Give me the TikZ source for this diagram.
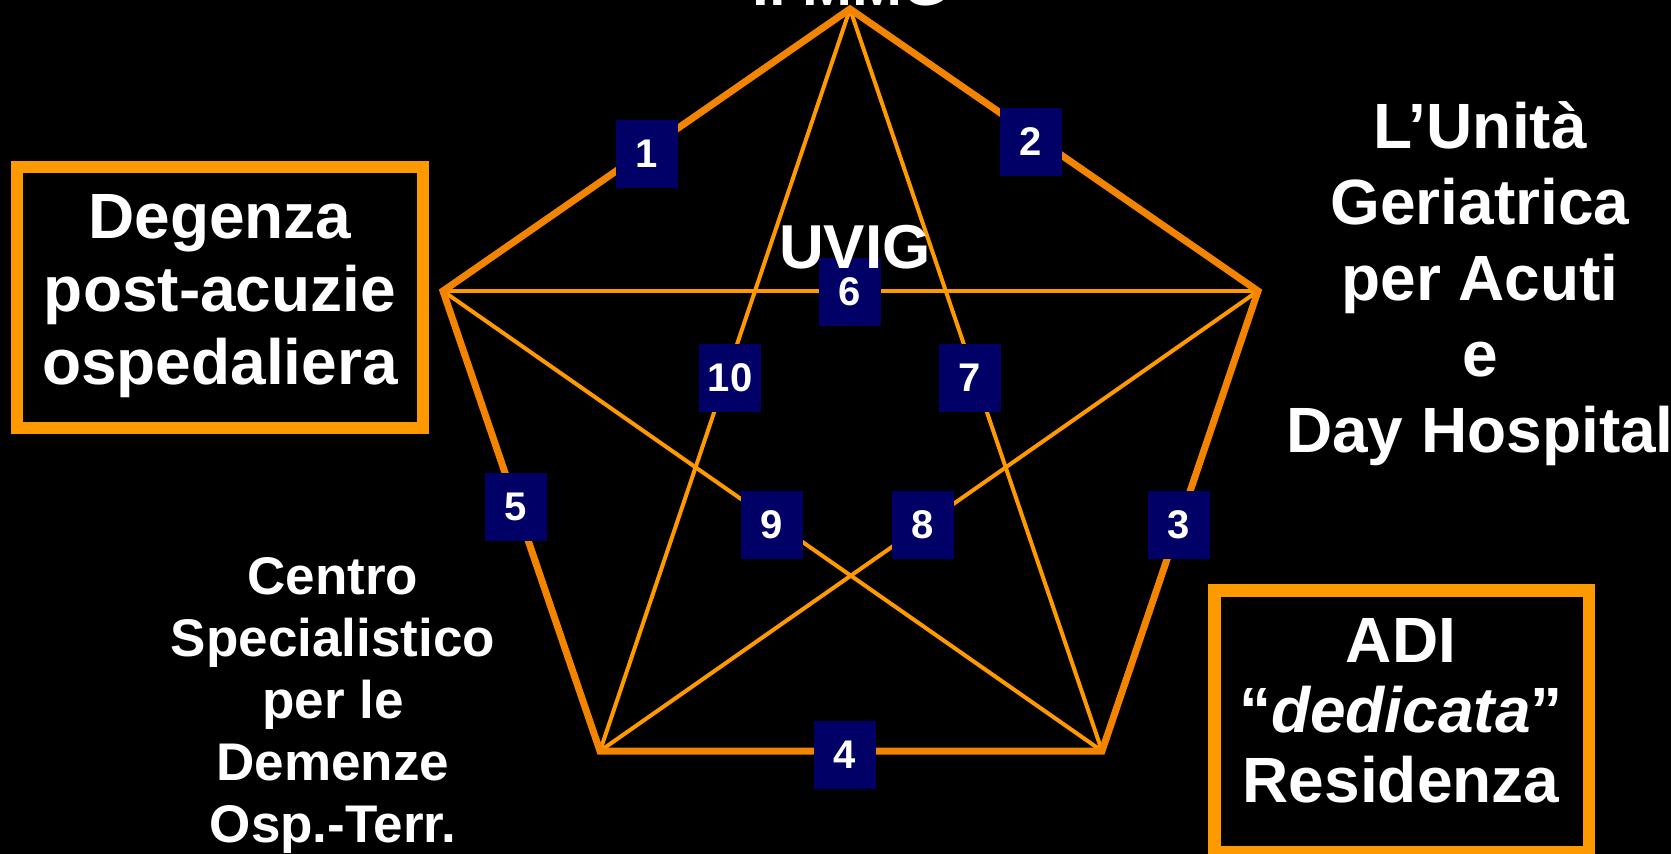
\documentclass[tikz,border=0pt]{standalone}
\usepackage{fontspec}
\setmainfont{Liberation Sans}
\definecolor{edgeor}{RGB}{242,132,0}
\definecolor{staror}{RGB}{255,153,0}
\definecolor{navy}{RGB}{0,0,102}
\begin{document}
\begin{tikzpicture}[x=1pt,y=-1pt,
  outeredge/.style={draw=edgeor,line width=7pt,line join=miter},
  starline/.style={draw=staror,line width=4pt},
  framebox/.style={draw=staror,line width=12.5pt},
  numbox/.style={fill=navy,text=white,inner sep=0pt,minimum width=62pt,minimum height=68pt,
    font=\bfseries\fontsize{40}{40}\selectfont},
  bigtxt/.style={text=white,align=center,anchor=base,inner sep=0pt,
    font=\bfseries\fontsize{64}{73}\selectfont},
]
\useasboundingbox (0,0) rectangle (1671,854);
\fill[black] (0,0) rectangle (1671,854);

% vertices
\coordinate (T) at (850,9);
\coordinate (L) at (443,291);
\coordinate (R) at (1258,291);
\coordinate (BL) at (600,751);
\coordinate (BR) at (1102,751);

% star
\draw[starline] (T) -- (BL);
\draw[starline] (T) -- (BR);
\draw[starline] (L) -- (R);
\draw[starline] (L) -- (BR);
\draw[starline] (R) -- (BL);
% pentagon
\draw[outeredge] (T) -- (R) -- (BR) -- (BL) -- (L) -- cycle;

% frames
\draw[framebox] (17,167) rectangle (423,428);
\draw[framebox] (1214.5,590.5) rectangle (1589,852);

% number boxes
\node[numbox] (n1) at (647,154) {1};
\node[numbox] (n2) at (1031,142) {2};
\node[numbox] (n3) at (1179,525) {3};
\node[numbox] (n4) at (845,755) {4};
\node[numbox] (n5) at (516,507) {5};
\node[numbox] (n6) at (850,292) {6};
\node[numbox] (n7) at (970,378) {7};
\node[numbox] (n8) at (923,525) {8};
\node[numbox] (n9) at (772,525) {9};
\node[numbox] (n10) at (730,378) {10};

% texts (anchor=base is the baseline of the last line)
\node[bigtxt,font=\bfseries\fontsize{60}{60}\selectfont] (top) at (851,5) {Il MMG};
\node[bigtxt,font=\bfseries\fontsize{62}{62}\selectfont] (uvig) at (855,268) {UVIG};
\node[bigtxt] (deg) at (220,384) {Degenza\hspace{0.28em}\\post-acuzie\\ospedaliera};
\node[bigtxt,font=\bfseries\fontsize{64}{76}\selectfont] (uga) at (1480,452) {L’Unità\\Geriatrica\\per Acuti\\e\\Day Hospital};
\node[bigtxt,font=\bfseries\fontsize{64}{70}\selectfont] (adi) at (1401,802) {ADI\\“\textit{dedicata}”\\Residenza};
\node[bigtxt,font=\bfseries\fontsize{53}{62}\selectfont] (cdc) at (333,842) {Centro\\Specialistico\\per le\\Demenze\\Osp.-Terr.};
\end{tikzpicture}
\end{document}
